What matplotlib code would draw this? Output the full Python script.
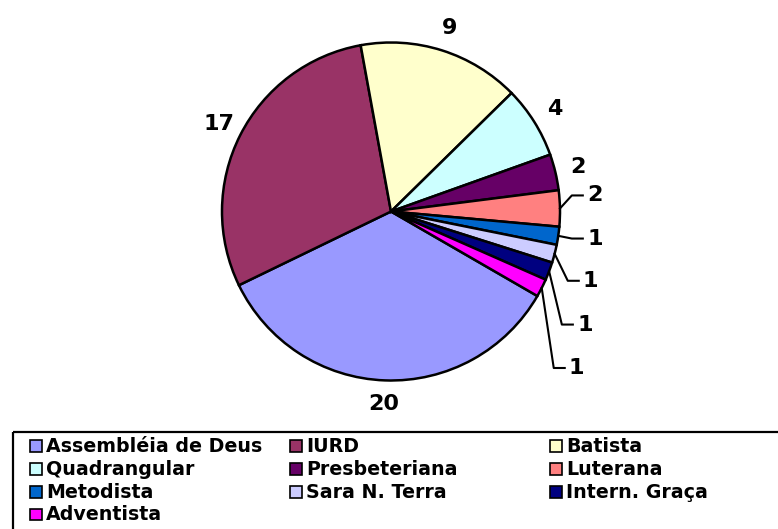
import numpy as np
import matplotlib
matplotlib.use("Agg")
import matplotlib.pyplot as plt
from matplotlib.patches import Rectangle

# dados do gráfico
denominacoes = ["Assembléia de Deus", "IURD", "Batista", "Quadrangular", "Presbeteriana",
                "Luterana", "Metodista", "Sara N. Terra", "Intern. Graça", "Adventista"]
valores = [20, 17, 9, 4, 2, 2, 1, 1, 1, 1]
cores = ["#9999FF", "#993366", "#FFFFCC", "#CCFFFF", "#660066",
         "#FF8080", "#0066CC", "#CCCCFF", "#000080", "#FF00FF"]

# posição dos rótulos com linha de chamada (fatias pequenas), em unidades do raio
rotulos_chamada = {5: (1.160, 0.095), 6: (1.160, -0.16), 7: (1.136, -0.41),
                   8: (1.101, -0.669), 9: (1.053, -0.926)}

W, H = 778, 529
cx, cy, raio = 391, 211.5, 169

fig = plt.figure(figsize=(W / 100, H / 100), dpi=100)
fig.patch.set_facecolor("white")

ax = fig.add_axes([0, 0, 1, 1])
inicio = -30
wedges, _ = ax.pie(valores, colors=cores, startangle=inicio, counterclock=False,
                   wedgeprops=dict(edgecolor="black", linewidth=1.8))
ax.set_xlim(-cx / raio, (W - cx) / raio)
ax.set_ylim((cy - H) / raio, cy / raio)
ax.set_aspect("auto")
ax.axis("off")

fonte = dict(family="DejaVu Sans", fontweight="bold", color="black")

for i, w in enumerate(wedges):
    meio = np.deg2rad((w.theta1 + w.theta2) / 2)
    if i in rotulos_chamada:
        lx, ly = rotulos_chamada[i]
        ex, ey = np.cos(meio), np.sin(meio)
        ax.plot([ex, lx - 0.09, lx - 0.025], [ey, ly, ly], color="black", lw=1.5)
        ax.text(lx, ly, str(valores[i]), ha="left", va="center", fontsize=16, **fonte)
    else:
        d = 1.14
        ax.text(d * np.cos(meio), d * np.sin(meio), str(valores[i]),
                ha="center", va="center", fontsize=16, **fonte)

# legenda desenhada em coordenadas de pixel
lax = fig.add_axes([0, 0, 1, 1])
lax.set_xlim(0, W)
lax.set_ylim(H, 0)
lax.axis("off")
lax.patch.set_alpha(0)
lax.add_patch(Rectangle((13, 432), 900, 200, facecolor="none", edgecolor="black", lw=1.6))

col_x = [30, 290, 550]
linha_y = [446, 469, 492, 514.5]
for i, (nome, cor) in enumerate(zip(denominacoes, cores)):
    x = col_x[i % 3]
    y = linha_y[i // 3]
    lax.add_patch(Rectangle((x, y - 5.8), 11.6, 11.6, facecolor=cor, edgecolor="black", lw=1.2))
    lax.text(x + 16, y + 0.5, nome, ha="left", va="center", fontsize=13.7, **fonte)

fig.savefig("out.png", dpi=100)
